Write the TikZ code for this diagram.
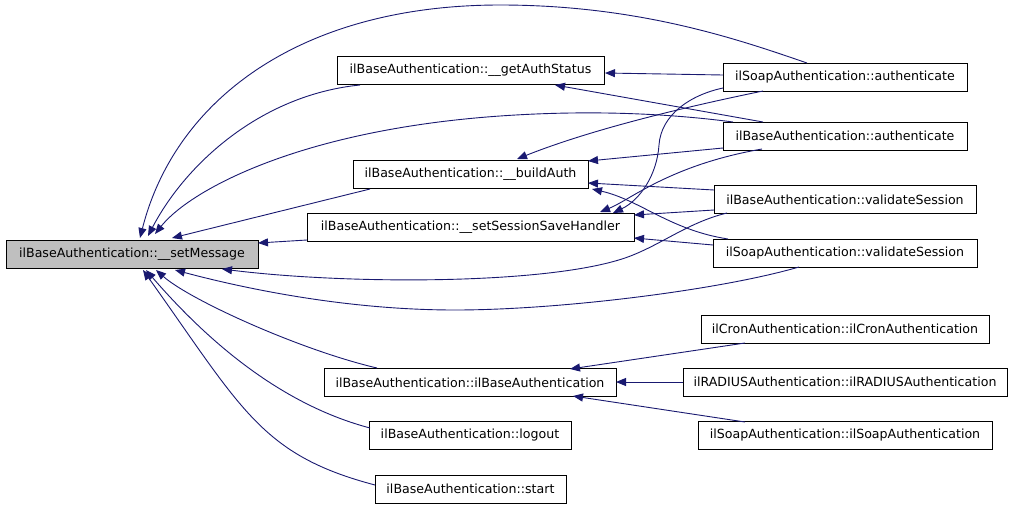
\documentclass[tikz,border=0pt]{standalone}
\usepackage{fontspec}
\setmainfont{DejaVu Sans}
\usetikzlibrary{arrows.meta,calc}
\definecolor{edgeblue}{HTML}{191970}
\definecolor{hlgray}{HTML}{BFBFBF}
\begin{document}
\begin{tikzpicture}[x=1pt,y=-1pt,
  fn/.style={draw=black,line width=1pt,fill=white,minimum height=28pt,inner sep=0pt,
    font=\fontsize{12.6}{14}\selectfont},
  call/.style={draw=edgeblue,line width=0.9pt,{Triangle[length=10pt,width=8pt,fill=edgeblue]}-}]
\useasboundingbox (0,0) rectangle (1013,509);
% nodes
\node[fn,fill=hlgray,minimum width=252pt] (sm) at (132,254) {ilBaseAuthentication::\_\_setMessage};
\node[fn,minimum width=267pt] (gas) at (470.5,70) {ilBaseAuthentication::\_\_getAuthStatus};
\node[fn,minimum width=235pt] (ba) at (470.5,174) {ilBaseAuthentication::\_\_buildAuth};
\node[fn,minimum width=327pt] (ssh) at (470.5,227) {ilBaseAuthentication::\_\_setSessionSaveHandler};
\node[fn,minimum width=292pt] (ctor) at (470,382.5) {ilBaseAuthentication::ilBaseAuthentication};
\node[fn,minimum width=202pt] (lo) at (470,435.5) {ilBaseAuthentication::logout};
\node[fn,minimum width=191pt] (st) at (470.5,489) {ilBaseAuthentication::start};
\node[fn,minimum width=244pt] (sa) at (845,77) {ilSoapAuthentication::authenticate};
\node[fn,minimum width=244pt] (bau) at (845,136) {ilBaseAuthentication::authenticate};
\node[fn,minimum width=262pt] (bvs) at (845,199.5) {ilBaseAuthentication::validateSession};
\node[fn,minimum width=264pt] (svs) at (845,253) {ilSoapAuthentication::validateSession};
\node[fn,minimum width=288pt] (cron) at (845,329) {ilCronAuthentication::ilCronAuthentication};
\node[fn,minimum width=324pt] (rad) at (845,382) {ilRADIUSAuthentication::ilRADIUSAuthentication};
\node[fn,minimum width=294pt] (sctor) at (845,435.5) {ilSoapAuthentication::ilSoapAuthentication};
% edges into __setMessage
\draw[call] ($(sm)+(8,-16)$) .. controls (175,100) and (300,5) .. (500,5)
  .. controls (640,5) and (740,40) .. ($(sa)+(-38,-14)$);
\draw[call] ($(sm)+(16,-18)$) .. controls (185,165) and (260,95) .. ($(gas)+(-110.5,15)$);
\draw[call] ($(sm)+(23,-20)$) .. controls (190,190) and (300,130) .. (500,116)
  .. controls (600,109) and (680,115) .. ($(bau)+(-112,-14)$);
\draw[call] ($(sm)+(40,-16)$) -- ($(ba)+(-100.5,15)$);
\draw[call] ($(sm)+(126,-11)$) -- ($(ssh)+(-163.5,13)$);
\draw[call] ($(sm)+(90,15)$) .. controls (350,285) and (560,285) .. (633,255)
  .. controls (665,242) and (690,222) .. ($(bvs)+(-118,13.5)$);
\draw[call] ($(sm)+(43,16)$) .. controls (250,290) and (350,310) .. (455,310)
  .. controls (560,310) and (720,290) .. ($(svs)+(-46,14)$);
\draw[call] ($(sm)+(24,16)$) .. controls (190,300) and (300,350) .. ($(ctor)+(-93,-14.5)$);
\draw[call] ($(sm)+(14,16)$) .. controls (210,344) and (283,405) .. ($(lo)+(-100,-7.5)$);
\draw[call] ($(sm)+(11,16)$) .. controls (242,409) and (261,455) .. ($(st)+(-95.5,-4)$);
% edges into __getAuthStatus
\draw[call] ($(gas)+(134.5,3)$) -- ($(sa)+(-122,-2)$);
\draw[call] ($(gas)+(84.5,15)$) -- ($(bau)+(-82,-14)$);
% edges into __buildAuth
\draw[call] ($(ba)+(46.5,-15)$) .. controls (590,130) and (680,108) .. ($(sa)+(-82,14)$);
\draw[call] ($(ba)+(117.5,-13)$) -- ($(bau)+(-122,12)$);
\draw[call] ($(ba)+(117.5,9)$) -- ($(bvs)+(-131,-9.5)$);
\draw[call] ($(ba)+(121.5,15)$) .. controls (640,200) and (670,230) .. ($(svs)+(-117,-14)$);
% edges into __setSessionSaveHandler
\draw[call] ($(ssh)+(142.5,-14)$) .. controls (640,200) and (657,175) .. (659,145)
  .. controls (661,115) and (690,95) .. ($(sa)+(-122,11)$);
\draw[call] ($(ssh)+(129.5,-15)$) .. controls (630,200) and (670,165) .. ($(bau)+(-83,13)$);
\draw[call] ($(ssh)+(163.5,-12)$) -- ($(bvs)+(-131,10.5)$);
\draw[call] ($(ssh)+(163.5,11)$) -- ($(svs)+(-132,-8)$);
% edges into the constructor
\draw[call] ($(ctor)+(100,-13.5)$) -- ($(cron)+(-100,14)$);
\draw[call] ($(ctor)+(146,-0.5)$) -- ($(rad)+(-162,0)$);
\draw[call] ($(ctor)+(103,13.5)$) -- ($(sctor)+(-100,-13.5)$);
\end{tikzpicture}
\end{document}
